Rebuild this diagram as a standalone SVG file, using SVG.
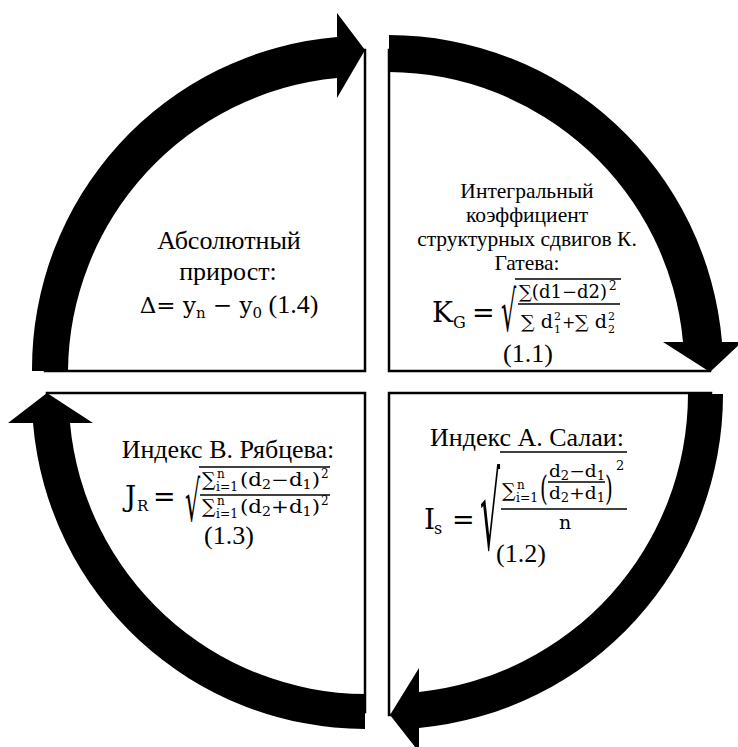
<svg xmlns="http://www.w3.org/2000/svg" width="738" height="747" viewBox="0 0 738 747">
<style>
.box{fill:#fff;stroke:#000;stroke-width:2.5}
.arr{fill:#000}
.t{font-family:"Liberation Serif","Times New Roman",serif;fill:#000}
.m{font-family:"DejaVu Serif",serif;fill:#000}
.bar{stroke:#000;stroke-width:1.3;fill:none}
.c{text-anchor:middle}
</style>
<rect width="738" height="747" fill="#fff"/>

<g id="node-absolute">
  <path class="box" d="M365 50 L365 371 L45 371 A320 321 0 0 1 365 50 Z"/>
  <text class="t c" x="229" y="249" font-size="26">Абсолютный</text>
  <text class="t c" x="228" y="280" font-size="26">прирост:</text>
  <text class="c" x="229" y="313"><tspan class="m" font-size="23">Δ= y</tspan><tspan class="m" font-size="15" dy="5">n</tspan><tspan class="m" font-size="23" dy="-5"> − y</tspan><tspan class="m" font-size="15" dy="5">0</tspan><tspan class="t" font-size="26" dy="-5"> (1.4)</tspan></text>
</g>

<g id="node-gatev">
  <path class="box" d="M389 50 L389 371 L710 371 A321 321 0 0 0 389 50 Z"/>
  <text class="t c" x="527" y="198" font-size="21.5">Интегральный</text>
  <text class="t c" x="527" y="222" font-size="21.5">коэффициент</text>
  <text class="t c" x="527" y="246" font-size="21.5">структурных сдвигов К.</text>
  <text class="t c" x="527" y="270" font-size="21.5">Гатева:</text>
  <text class="m" x="432" y="322" font-size="28">K</text>
  <text class="m" x="453" y="328" font-size="16">G</text>
  <text class="m" x="472" y="322" font-size="27">=</text>
  <text class="m" font-size="28" transform="translate(501,331) scale(0.85,2.0)">√</text>
  <line class="bar" x1="515" y1="279" x2="621" y2="279"/>
  <text class="m" x="519" y="298" font-size="18" textLength="88" lengthAdjust="spacingAndGlyphs">∑(d1−d2)</text>
  <text class="m" x="609" y="290" font-size="12">2</text>
  <line class="bar" x1="518" y1="304" x2="620" y2="304"/>
  <text class="m" x="521" y="328" font-size="18" textLength="32" lengthAdjust="spacingAndGlyphs">∑ d</text>
  <text class="m" x="554" y="320" font-size="11">2</text>
  <text class="m" x="554" y="333" font-size="11">1</text>
  <text class="m" x="562" y="328" font-size="16">+</text>
  <text class="m" x="575" y="328" font-size="18" textLength="32" lengthAdjust="spacingAndGlyphs">∑ d</text>
  <text class="m" x="608" y="320" font-size="11">2</text>
  <text class="m" x="608" y="333" font-size="11">2</text>
  <text class="t" x="503" y="362" font-size="26">(1.1)</text>
</g>

<g id="node-salai">
  <path class="box" d="M711 393 L389 393 L389 715 A322 322 0 0 0 711 393 Z"/>
  <text class="t c" x="527" y="446" font-size="26">Индекс А. Салаи:</text>
  <text class="m" x="424" y="529" font-size="28">I</text>
  <text class="m" x="434" y="534" font-size="16">s</text>
  <text class="m" x="452" y="529" font-size="27">=</text>
  <text class="m" font-size="30" transform="translate(480,549) scale(1.05,3.5)">√</text>
  <line class="bar" x1="500" y1="452" x2="627" y2="452"/>
  <text class="m" x="502" y="497" font-size="19">∑</text>
  <text class="m" x="517" y="489" font-size="12">n</text>
  <text class="m" x="516" y="502" font-size="12" textLength="22" lengthAdjust="spacingAndGlyphs">i=1</text>
  <text class="m" font-size="20" transform="translate(540,500) scale(1,1.7)">(</text>
  <text class="m" x="549" y="477" font-size="17" textLength="56" lengthAdjust="spacingAndGlyphs">d<tspan font-size="12" dy="3">2</tspan><tspan dy="-3">−d</tspan><tspan font-size="12" dy="3">1</tspan></text>
  <line class="bar" x1="548" y1="482" x2="605" y2="482"/>
  <text class="m" x="549" y="499" font-size="17" textLength="56" lengthAdjust="spacingAndGlyphs">d<tspan font-size="12" dy="3">2</tspan><tspan dy="-3">+d</tspan><tspan font-size="12" dy="3">1</tspan></text>
  <text class="m" font-size="20" transform="translate(605,500) scale(1,1.7)">)</text>
  <text class="m" x="616" y="470" font-size="13">2</text>
  <line class="bar" x1="501" y1="509" x2="627" y2="509"/>
  <text class="m" x="559" y="529" font-size="19">n</text>
  <text class="t" x="496" y="562" font-size="26">(1.2)</text>
</g>

<g id="node-ryabtsev">
  <path class="box" d="M47 393 L365 393 L365 712 A318 318 0 0 1 47 393 Z"/>
  <text class="t c" x="228" y="458" font-size="26">Индекс В. Рябцева:</text>
  <text class="m" x="125" y="506" font-size="28">J</text>
  <text class="m" x="137" y="511" font-size="15">R</text>
  <text class="m" x="153" y="506" font-size="27">=</text>
  <text class="m" font-size="28" transform="translate(185,521) scale(0.85,2.0)">√</text>
  <line class="bar" x1="199" y1="467" x2="330" y2="467"/>
  <text class="m" x="202" y="486" font-size="19">∑</text>
  <text class="m" x="217" y="478" font-size="12">n</text>
  <text class="m" x="216" y="491" font-size="12" textLength="22" lengthAdjust="spacingAndGlyphs">i=1</text>
  <text class="m" x="240" y="486" font-size="18" textLength="80" lengthAdjust="spacingAndGlyphs">(d<tspan font-size="12" dy="3">2</tspan><tspan dy="-3">−d</tspan><tspan font-size="12" dy="3">1</tspan><tspan dy="-3">)</tspan></text>
  <text class="m" x="321" y="478" font-size="12">2</text>
  <line class="bar" x1="200" y1="495" x2="330" y2="495"/>
  <text class="m" x="202" y="513" font-size="19">∑</text>
  <text class="m" x="217" y="505" font-size="12">n</text>
  <text class="m" x="216" y="518" font-size="12" textLength="22" lengthAdjust="spacingAndGlyphs">i=1</text>
  <text class="m" x="240" y="513" font-size="18" textLength="80" lengthAdjust="spacingAndGlyphs">(d<tspan font-size="12" dy="3">2</tspan><tspan dy="-3">+d</tspan><tspan font-size="12" dy="3">1</tspan><tspan dy="-3">)</tspan></text>
  <text class="m" x="321" y="505" font-size="12">2</text>
  <text class="t" x="204" y="544" font-size="26">(1.3)</text>
</g>

<g id="connectors">
  <path class="arr" d="M32 371 A333 333 0 0 1 337 37 L337 13 L365 50 L337 98 L337 78 A297 297 0 0 0 68 371 Z"/>
  <path class="arr" d="M389 35 A335 335 0 0 1 722 342 L742 342 L710 372 L663 342 L683 342 A297 297 0 0 0 389 72 Z"/>
  <path class="arr" d="M723 394 A335 335 0 0 1 419 728 L419 752 L390 715 L419 668 L419 692 A300 300 0 0 0 688 394 Z"/>
  <path class="arr" d="M365 729 A334 334 0 0 1 33 423 L8 423 L47 393 L93 423 L70 423 A298 298 0 0 0 365 694 Z"/>
</g>
</svg>
